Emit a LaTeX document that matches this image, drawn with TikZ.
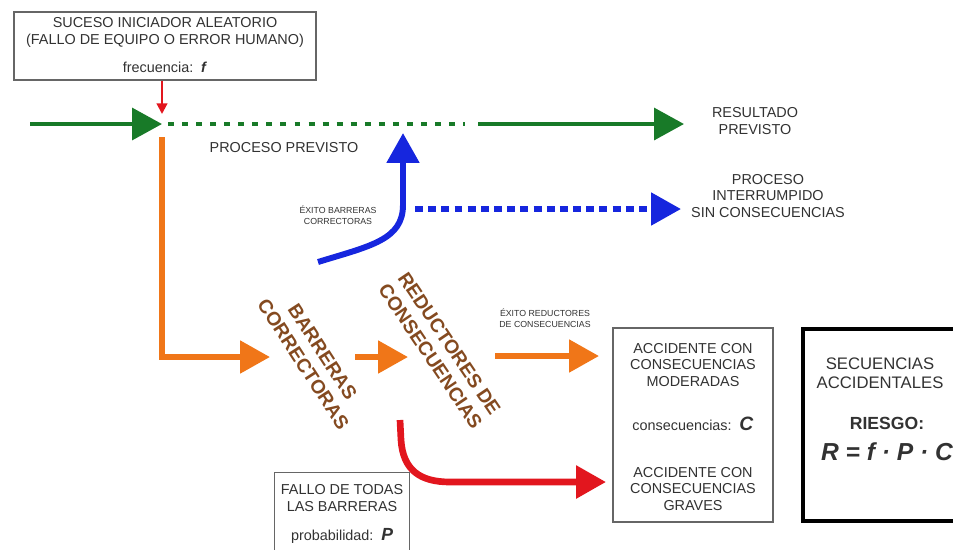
\documentclass[tikz,border=0pt]{standalone}
\usepackage{fontspec}
\setmainfont{Liberation Sans}
\usetikzlibrary{arrows.meta}

\definecolor{verde}{RGB}{24,122,40}
\definecolor{naranja}{RGB}{240,118,24}
\definecolor{azul}{RGB}{22,38,222}
\definecolor{rojo}{RGB}{226,22,30}
\definecolor{marron}{RGB}{132,74,32}
\definecolor{texto}{RGB}{50,50,50}

\begin{document}
\begin{tikzpicture}[x=0.02cm,y=-0.02cm,
    caja/.style={draw=black!60,line width=0.8pt,inner sep=0pt},
    txt/.style={text=texto,align=center,font=\fontsize{8.2}{9.6}\selectfont,inner sep=0pt},
    mini/.style={text=texto,align=center,font=\fontsize{5}{6}\selectfont,inner sep=0pt},
    rotulo/.style={text=marron,align=center,font=\bfseries\fontsize{11}{13}\selectfont,inner sep=0pt},
    punta/.style={-{Triangle[length=17pt,width=18pt]}}]
            \useasboundingbox (0,0) rectangle (953,549);
            \clip (0,0) rectangle (953,549);

            \node (ini) at (165,46) [caja,minimum width=6.04cm,minimum height=1.36cm] {};
            \node (ini1) at (165,23) [txt] {SUCESO INICIADOR ALEATORIO};
            \node (ini2) at (165,41) [txt] {(FALLO DE EQUIPO O ERROR HUMANO)};
            \node (ini3) at (165,67) [txt] {frecuencia:\, \textbf{\textit{f}}};

            \coordinate (a0) at (30,124);
            \coordinate (a) at (162,124);
            \coordinate (b) at (465,124);
            \coordinate (b1) at (478,124);
            \coordinate (c) at (684,124);
            \draw[rojo,line width=1.2pt,-{Triangle[length=6pt,width=6pt]}] (ini.south -| a) -- ([yshift=0.2cm]a);
            \draw[verde,line width=2.4pt,punta] (a0) -- (a);
            \draw[verde,line width=2.4pt,dash pattern=on 3.4pt off 4.6pt] ([xshift=0.12cm]a) -- (b);
            \draw[verde,line width=2.4pt,punta] (b1) -- (c);
            \node (res) at (755,121) [txt] {RESULTADO\\PREVISTO};
            \node (pp) at (284,148) [txt] {PROCESO PREVISTO};

            % rama naranja
            \coordinate (d) at (162,137);
            \coordinate (e) at (162,357);
            \coordinate (g) at (270,357);
            \draw[naranja,line width=3.4pt,punta] (d) -- (e) -- (g);
            \node (barr) at (313,358) [rotulo,rotate=-57] {BARRERAS\\CORRECTORAS};
            \coordinate (h) at (355,357);
            \coordinate (i) at (408,357);
            \draw[naranja,line width=3.4pt,punta] (h) -- (i);
            \node (red) at (440,350) [rotulo,rotate=-56] {REDUCTORES DE\\CONSECUENCIAS};
            \coordinate (j) at (495,356);
            \coordinate (k) at (599,356);
            \draw[naranja,line width=3.4pt,punta] (j) -- (k);
            \node (exr) at (545,318) [mini] {ÉXITO REDUCTORES\\DE CONSECUENCIAS};

            % rama azul
            \coordinate (m) at (318,262);
            \coordinate (n) at (403,133);
            \draw[azul,line width=3.4pt,punta] (m) .. controls (370,246) and (403,240) .. (403,205) -- (n);
            \node (exb) at (338,215) [mini] {ÉXITO BARRERAS\\CORRECTORAS};
            \coordinate (o) at (415,209);
            \coordinate (p) at (681,209);
            \draw[azul,line width=3.4pt,dash pattern=on 4.5pt off 3pt,punta] (o) -- (p);
            \node (int) at (768,196) [txt] {PROCESO\\INTERRUMPIDO\\SIN CONSECUENCIAS};

            % rama roja
            \coordinate (q) at (400,420);
            \coordinate (r) at (606,482);
            \draw[rojo,line width=3.8pt,punta] (q) -- (401,440) .. controls (403,470) and (420,482) .. (450,482) -- (r);

            \node (acc) at (693,425) [caja,minimum width=3.2cm,minimum height=3.88cm] {};
            \node (acc1) at (693,365) [txt] {ACCIDENTE CON\\CONSECUENCIAS\\MODERADAS};
            \node (acc2) at (693,424) [txt] {consecuencias:\, {\fontsize{11}{12}\selectfont\textbf{\textit{C}}}};
            \node (acc3) at (693,489) [txt] {ACCIDENTE CON\\CONSECUENCIAS\\GRAVES};

            \node (sec) at (881,425) [draw,line width=2.3pt,minimum width=3.14cm,minimum height=3.84cm] {};
            \node (sec1) at (880,373) [txt,font=\fontsize{9.5}{11}\selectfont] {SECUENCIAS\\ACCIDENTALES};
            \node (sec2) at (887,423) [txt,font=\bfseries\fontsize{10}{12}\selectfont] {RIESGO:};
            \node (sec3) at (887,452) [txt,font=\bfseries\itshape\fontsize{14}{16}\selectfont] {R = f · P · C};

            \node (fal) at (342,516) [caja,minimum width=2.7cm,minimum height=1.74cm] {};
            \node (fal1) at (342,498) [txt] {FALLO DE TODAS\\LAS BARRERAS};
            \node (fal2) at (342,536) [txt] {probabilidad:\, {\fontsize{10}{12}\selectfont\textbf{\textit{P}}}};
\end{tikzpicture}
\end{document}
